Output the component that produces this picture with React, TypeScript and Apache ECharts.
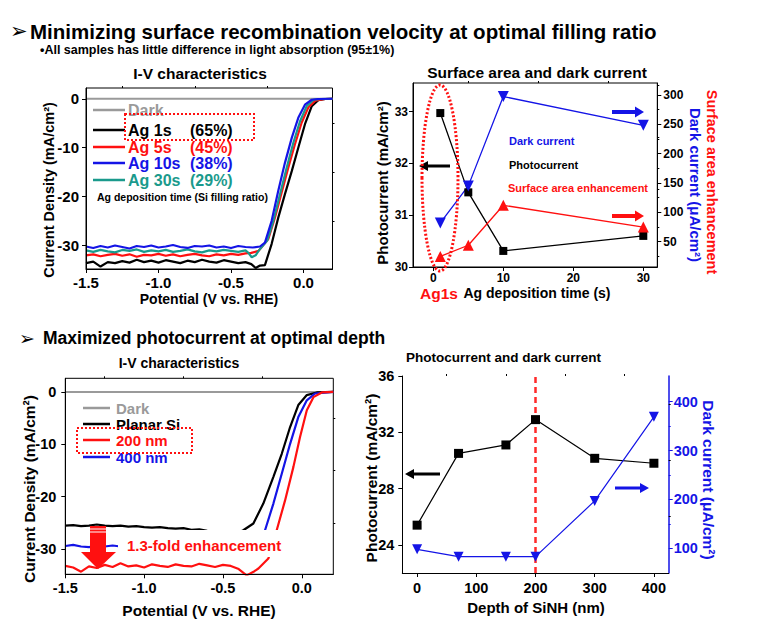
import React, { useEffect, useRef } from 'react';
import * as echarts from 'echarts';

const FONT = "'Liberation Sans', Arial, Helvetica, sans-serif";
const RED = '#ff1010';
const BLUE = '#1414e6';
const TEAL = '#1a9a8c';
const GRAY = '#9a9a9a';

// ---------- Panel 1 : I-V characteristics (Ag deposition time) ----------
const p1DarkV = [-1.5, 0.2];
const p1DarkJ = [0, 0];
const p1Ag1sV = [-1.5,-1.45,-1.4,-1.35,-1.3,-1.25,-1.2,-1.15,-1.1,-1.05,-1.0,-0.95,-0.9,-0.85,-0.8,-0.75,-0.7,-0.65,-0.6,-0.55,-0.5,-0.45,-0.4,-0.36,-0.33,-0.3,-0.266,-0.22,-0.174,-0.128,-0.081,-0.036,0.01,0.057,0.102,0.15,0.2];
const p1Ag1sJ = [-33.6,-33.3,-34.3,-33.4,-33.6,-33.2,-33.5,-32.9,-33.4,-33.1,-33.5,-33.0,-33.3,-33.6,-33.1,-33.4,-32.9,-33.3,-33.5,-33.0,-33.3,-33.6,-33.4,-33.8,-34.6,-34.1,-34.0,-29.7,-24.3,-19.5,-14.8,-10.0,-5.2,-1.5,-0.3,-0.05,0];
const p1Ag5sV = [-1.5,-1.45,-1.4,-1.35,-1.3,-1.25,-1.2,-1.15,-1.1,-1.05,-1.0,-0.95,-0.9,-0.85,-0.8,-0.75,-0.7,-0.65,-0.6,-0.55,-0.5,-0.45,-0.4,-0.36,-0.31,-0.243,-0.197,-0.151,-0.105,-0.059,-0.013,0.033,0.08,0.148,0.2];
const p1Ag5sJ = [-32.0,-31.8,-32.2,-31.9,-31.7,-32.1,-31.8,-32.3,-31.9,-32.0,-31.7,-32.1,-31.8,-32.2,-31.9,-31.7,-32.0,-32.2,-31.8,-32.0,-31.7,-31.9,-31.6,-31.5,-31.1,-28.7,-24.3,-19.2,-14.1,-9.3,-4.9,-1.8,-0.4,-0.05,0];
const p1Ag10sV = [-1.5,-1.45,-1.4,-1.35,-1.3,-1.25,-1.2,-1.15,-1.1,-1.05,-1.0,-0.95,-0.9,-0.85,-0.8,-0.75,-0.7,-0.65,-0.6,-0.55,-0.5,-0.45,-0.4,-0.35,-0.3,-0.266,-0.22,-0.174,-0.128,-0.081,-0.036,0.01,0.057,0.1,0.2];
const p1Ag10sJ = [-30.2,-30.5,-30.1,-30.4,-30.0,-30.3,-30.6,-30.1,-30.3,-30.0,-30.4,-30.2,-29.9,-30.3,-30.5,-30.1,-30.2,-30.0,-30.4,-30.2,-30.5,-30.1,-30.3,-30.4,-30.2,-29.4,-25.0,-18.8,-13.1,-8.0,-3.9,-1.2,-0.2,-0.05,0];
const p1Ag30sV = [-1.5,-1.45,-1.4,-1.35,-1.3,-1.25,-1.2,-1.15,-1.1,-1.05,-1.0,-0.95,-0.9,-0.85,-0.8,-0.75,-0.7,-0.65,-0.6,-0.55,-0.5,-0.45,-0.4,-0.38,-0.357,-0.33,-0.31,-0.25,-0.208,-0.162,-0.116,-0.07,-0.024,0.022,0.07,0.12,0.2];
const p1Ag30sJ = [-31.0,-31.3,-30.9,-31.2,-31.4,-30.9,-31.1,-30.8,-31.3,-31.0,-31.2,-30.9,-31.3,-31.1,-30.8,-31.2,-31.4,-31.0,-31.2,-30.9,-31.1,-31.3,-31.0,-31.5,-32.4,-32.0,-31.1,-29.0,-25.0,-19.5,-14.1,-9.0,-4.6,-1.5,-0.2,-0.05,0];
const ivXLabels = [-1.5, -1.0, -0.5, 0];
const ivXMinor = [-1.25, -0.75, -0.25];
const ivYLabels = [-30, -20, -10, 0];
const ivYMinor = [-25, -15, -5];

// ---------- Panel 2 : Surface area and dark current ----------
const depTime = [1, 5, 10, 30];
const photocurrent2 = [32.97, 31.44, 30.31, 30.6];
const darkCurrent2 = [82, 145, 297, 248];
const surfaceEnh2 = [25, 44, 112, 75];
const p2XLabels = [0, 10, 20, 30];
const p2XMinor = [5, 15, 25];
const p2LLabels = [30, 31, 32, 33];
const p2LMinor = [30.5, 31.5, 32.5, 33.5];
const p2RLabels = [50, 100, 150, 200, 250, 300];
const p2RMinor = [25, 75, 125, 175, 225, 275];

// ---------- Panel 3 : I-V characteristics (depth) ----------
const p3DarkV = [-1.5, 0.2];
const p3DarkJ = [0, 0];
const p3PlanarV = [-1.5,-1.45,-1.4,-1.35,-1.3,-1.25,-1.2,-1.15,-1.1,-1.05,-1.0,-0.95,-0.9,-0.85,-0.8,-0.75,-0.7,-0.65,-0.6,-0.55,-0.5,-0.45,-0.4,-0.371,-0.307,-0.244,-0.18,-0.127,-0.074,-0.022,0.032,0.095,0.2];
const p3PlanarJ = [-25.5,-25.4,-25.6,-25.5,-25.3,-25.5,-25.6,-25.5,-25.7,-25.6,-25.8,-25.9,-25.8,-26.0,-26.1,-26.0,-26.3,-26.2,-26.5,-26.7,-26.8,-26.9,-26.8,-26.4,-25.1,-21.3,-16.2,-11.8,-6.7,-2.5,-0.6,-0.1,0];
const p3n400V = [-1.5,-1.45,-1.4,-1.35,-1.3,-1.25,-1.2,-1.15,-0.8,-0.4,-0.25,-0.233,-0.18,-0.127,-0.074,-0.022,0.032,0.084,0.2];
const p3n400J = [-29.4,-29.2,-29.5,-29.6,-29.4,-29.5,-29.3,-29.5,-29.5,-29.5,-28.6,-26.4,-21.3,-15.6,-9.9,-4.8,-1.6,-0.3,0];
const p3n200V = [-1.5,-1.45,-1.4,-1.35,-1.3,-1.25,-1.2,-1.15,-1.1,-1.05,-1.0,-0.95,-0.9,-0.85,-0.8,-0.75,-0.7,-0.65,-0.6,-0.55,-0.5,-0.45,-0.4,-0.35,-0.3,-0.275,-0.212,-0.159,-0.106,-0.053,-0.011,0.032,0.074,0.127,0.2];
const p3n200J = [-33.2,-33.5,-34.3,-33.3,-33.6,-33.0,-33.4,-32.7,-33.3,-33.1,-33.5,-32.9,-33.2,-33.4,-32.9,-33.2,-33.3,-32.8,-33.1,-33.4,-33.0,-33.2,-33.8,-35.0,-34.2,-33.7,-31.8,-26.4,-20.7,-14.3,-8.6,-3.5,-1.0,-0.1,0];

// ---------- Panel 4 : Photocurrent and dark current ----------
const depth = [0, 70, 150, 200, 300, 400];
const photocurrent4 = [25.4, 30.5, 31.1, 32.9, 30.15, 29.8];
const darkCurrent4 = [98, 83, 83, 83, 197, 369];
const p4XLabels = [0, 100, 200, 300, 400];
const p4XMinor = [50, 150, 250, 350];
const p4LLabels = [24, 28, 32, 36];
const p4LMinor = [26, 30, 34];
const p4RLabels = [100, 200, 300, 400];
const p4RMinor = [150, 250, 350];
const optimalDepth = 200;

const zip = (xs: number[], ys: number[]) => xs.map((x, i) => [x, ys[i]]);

function mkAxis(p: any) {
  const color = p.color || '#000';
  const a: any = {
    type: 'value',
    gridIndex: p.grid,
    min: p.min,
    max: p.max,
    position: p.position,
    splitLine: { show: false },
    axisLine: { show: p.line !== false, onZero: false, lineStyle: { color, width: p.lineWidth || 1 } },
    axisTick: { show: true, inside: false, length: p.tickLen || 4, lineStyle: { color, width: 1 } },
    axisLabel: {
      show: p.showLabels !== false,
      color,
      fontWeight: 'bold',
      fontFamily: FONT,
      fontSize: p.fontSize || 14,
      margin: p.margin == null ? 6 : p.margin,
    },
    z: 5,
  };
  if (p.fmt) a.axisLabel.formatter = p.fmt;
  if (p.ticks) a.axisTick.customValues = p.ticks;
  if (p.labels) a.axisLabel.customValues = p.labels;
  return a;
}

// overlay axis that only draws short minor ticks
const minorAxis = (grid: number, min: number, max: number, ticks: number[], position?: string, color = '#000') =>
  mkAxis({ grid, min, max, ticks, position, color, showLabels: false, line: false, tickLen: 2 });

const txt = (x: number, y: number, text: string, o: any = {}) => ({
  type: 'text',
  x,
  y,
  z: 100,
  rotation: o.rot || 0,
  style: {
    text,
    fill: o.color || '#000',
    fontSize: o.size || 14,
    fontWeight: 'bold',
    fontFamily: o.family || FONT,
    align: o.align || 'left',
    verticalAlign: 'middle',
  },
});

const legLine = (x1: number, x2: number, y: number, color: string, w = 2.5) => ({
  type: 'line',
  z: 100,
  shape: { x1, y1: y, x2, y2: y },
  style: { stroke: color, lineWidth: w },
});

function hArrow(x1: number, y: number, x2: number, color: string, sw: number, hl: number, hw: number) {
  const s = Math.sign(x2 - x1);
  const b = x2 - s * hl;
  return {
    type: 'polygon',
    z: 100,
    shape: {
      points: [
        [x1, y - sw / 2], [b, y - sw / 2], [b, y - hw / 2], [x2, y],
        [b, y + hw / 2], [b, y + sw / 2], [x1, y + sw / 2],
      ],
    },
    style: { fill: color },
  };
}

function buildOption() {
  const lineSeries = (name: string, data: any, color: string, xi: number, yi: number, w = 2.2) => ({
    name, type: 'line', xAxisIndex: xi, yAxisIndex: yi, data, showSymbol: false, symbol: 'none',
    lineStyle: { color, width: w }, itemStyle: { color }, silent: true,
  });
  const markSeries = (name: string, data: any, color: string, xi: number, yi: number, symbol: string, size: number, rot = 0, w = 1.3) => ({
    name, type: 'line', xAxisIndex: xi, yAxisIndex: yi, data, symbol, symbolSize: size, symbolRotate: rot,
    lineStyle: { color, width: w }, itemStyle: { color }, silent: true,
  });

  const fmt1 = (v: number) => v.toFixed(1);

  return {
    animation: false,
    backgroundColor: '#fff',
    grid: [
      { left: 86, top: 88, width: 246.5, height: 181, show: true, borderColor: '#000', borderWidth: 1 },
      { left: 413, top: 83, width: 244.3, height: 184, show: true, borderColor: '#000', borderWidth: 1 },
      { left: 65.3, top: 378.3, width: 268, height: 196, show: true, borderColor: '#000', borderWidth: 1 },
      { left: 402.3, top: 376, width: 266.4, height: 197, show: false },
    ],
    xAxis: [
      mkAxis({ grid: 0, min: -1.5, max: 0.2, labels: ivXLabels, ticks: ivXLabels, fmt: fmt1, fontSize: 15, margin: 6 }),
      mkAxis({ grid: 1, min: -2.9, max: 32, labels: p2XLabels, ticks: p2XLabels, fontSize: 12, margin: 5 }),
      mkAxis({ grid: 2, min: -1.5, max: 0.2, labels: ivXLabels, ticks: ivXLabels, fmt: fmt1, fontSize: 14.5, margin: 6 }),
      mkAxis({ grid: 3, min: -25, max: 425, labels: p4XLabels, ticks: p4XLabels, fontSize: 14.5, margin: 7 }),
      minorAxis(0, -1.5, 0.2, ivXMinor),
      minorAxis(1, -2.9, 32, p2XMinor),
      minorAxis(2, -1.5, 0.2, ivXMinor),
      minorAxis(3, -25, 425, p4XMinor),
    ],
    yAxis: [
      mkAxis({ grid: 0, min: -34.8, max: 2.2, labels: ivYLabels, ticks: ivYLabels, fontSize: 15, margin: 7 }),
      mkAxis({ grid: 1, min: 30, max: 33.55, labels: p2LLabels, ticks: p2LLabels, fontSize: 12, margin: 5 }),
      mkAxis({ grid: 1, min: 7, max: 320, position: 'right', labels: p2RLabels, ticks: p2RLabels, fontSize: 12, margin: 6 }),
      mkAxis({ grid: 2, min: -34.8, max: 2.6, labels: ivYLabels, ticks: ivYLabels, fontSize: 14.5, margin: 9 }),
      mkAxis({ grid: 3, min: 22, max: 36, labels: p4LLabels, ticks: p4LLabels, fontSize: 14.5, margin: 8 }),
      mkAxis({ grid: 3, min: 49.5, max: 452.6, position: 'right', labels: p4RLabels, ticks: p4RLabels, fontSize: 14.5, margin: 5, color: BLUE, lineWidth: 1.5 }),
      minorAxis(0, -34.8, 2.2, ivYMinor),
      minorAxis(1, 30, 33.55, p2LMinor),
      minorAxis(1, 7, 320, p2RMinor, 'right'),
      minorAxis(2, -34.8, 2.6, ivYMinor),
      minorAxis(3, 22, 36, p4LMinor),
      minorAxis(3, 49.5, 452.6, p4RMinor, 'right', BLUE),
    ],
    series: [
      // panel 1
      lineSeries('Dark', zip(p1DarkV, p1DarkJ), GRAY, 0, 0, 2),
      lineSeries('Ag 1s', zip(p1Ag1sV, p1Ag1sJ), '#000', 0, 0),
      lineSeries('Ag 5s', zip(p1Ag5sV, p1Ag5sJ), RED, 0, 0),
      lineSeries('Ag 30s', zip(p1Ag30sV, p1Ag30sJ), TEAL, 0, 0),
      lineSeries('Ag 10s', zip(p1Ag10sV, p1Ag10sJ), BLUE, 0, 0),
      // panel 2
      markSeries('Photocurrent', zip(depTime, photocurrent2), '#000', 1, 1, 'rect', 8),
      markSeries('Dark current', zip(depTime, darkCurrent2), BLUE, 1, 2, 'triangle', 11, 180),
      markSeries('Surface area enhancement', zip(depTime, surfaceEnh2), RED, 1, 2, 'triangle', 11),
      // panel 3
      lineSeries('Dark', zip(p3DarkV, p3DarkJ), GRAY, 2, 3, 2),
      lineSeries('Planar Si', zip(p3PlanarV, p3PlanarJ), '#000', 2, 3),
      lineSeries('400 nm', zip(p3n400V, p3n400J), BLUE, 2, 3),
      lineSeries('200 nm', zip(p3n200V, p3n200J), RED, 2, 3),
      // panel 4
      {
        ...markSeries('Photocurrent', zip(depth, photocurrent4), '#000', 3, 4, 'rect', 9, 0, 1.2),
        markLine: {
          silent: true,
          symbol: ['none', 'none'],
          label: { show: false },
          lineStyle: { color: '#ff2a2a', type: [6, 4], width: 2.5 },
          data: [{ xAxis: optimalDepth }],
          z: 3,
        },
      },
      markSeries('Dark current', zip(depth, darkCurrent4), BLUE, 3, 5, 'triangle', 10, 180, 1.2),
    ],
    graphic: [
      // headings
      txt(10, 31, '\u27A2', { size: 21, family: "'DejaVu Sans', sans-serif" }),
      txt(30, 31, 'Minimizing surface recombination velocity at optimal filling ratio', { size: 20.5 }),
      txt(40, 50, '\u2022All samples has little difference in light absorption (95\u00B11%)', { size: 12.5 }),
      txt(19, 338, '\u27A2', { size: 19, family: "'DejaVu Sans', sans-serif" }),
      txt(43, 338, 'Maximized photocurrent at optimal depth', { size: 17.5 }),

      // panel 1
      txt(200, 73, 'I-V characteristics', { size: 15.5, align: 'center' }),
      txt(49, 190, 'Current Density (mA/cm\u00B2)', { size: 14.5, align: 'center', rot: Math.PI / 2 }),
      txt(209, 299, 'Potential (V vs. RHE)', { size: 14, align: 'center' }),
      legLine(93, 125, 110, GRAY),
      txt(128, 110, 'Dark', { size: 16, color: GRAY }),
      legLine(93, 125, 130, '#000'),
      txt(128, 130, 'Ag 1s', { size: 16 }),
      txt(190, 130, '(65%)', { size: 16 }),
      legLine(93, 125, 147, RED),
      txt(128, 147, 'Ag 5s', { size: 16, color: RED }),
      txt(190, 147, '(45%)', { size: 16, color: RED }),
      legLine(93, 125, 163, BLUE),
      txt(128, 163, 'Ag 10s', { size: 16, color: BLUE }),
      txt(190, 163, '(38%)', { size: 16, color: BLUE }),
      legLine(93, 125, 180, TEAL),
      txt(128, 180, 'Ag 30s', { size: 16, color: TEAL }),
      txt(190, 180, '(29%)', { size: 16, color: TEAL }),
      txt(97, 197, 'Ag deposition time (Si filling ratio)', { size: 10.5 }),
      {
        type: 'rect', z: 101,
        shape: { x: 125, y: 114, width: 129, height: 26 },
        style: { fill: 'none', stroke: RED, lineWidth: 2, lineDash: [2, 2] },
      },

      // panel 2
      txt(537, 72, 'Surface area and dark current', { size: 15.5, align: 'center' }),
      txt(382, 183, 'Photocurrent (mA/cm\u00B2)', { size: 15, align: 'center', rot: Math.PI / 2 }),
      txt(695, 185, 'Dark current (\u03BCA/cm\u00B2)', { size: 15, align: 'center', rot: -Math.PI / 2, color: BLUE }),
      txt(712, 182, 'Surface area enhancement', { size: 14.5, align: 'center', rot: -Math.PI / 2, color: RED }),
      txt(537, 293, 'Ag deposition time (s)', { size: 14, align: 'center' }),
      txt(439, 293, 'Ag1s', { size: 15.5, align: 'center', color: RED }),
      txt(509, 141, 'Dark current', { size: 11, color: BLUE }),
      txt(509, 165, 'Photocurrent', { size: 11 }),
      txt(508, 188, 'Surface area enhancement', { size: 11, color: RED }),
      hArrow(450, 166, 419, '#000', 3, 9, 10),
      hArrow(612, 112, 644, BLUE, 4, 9, 11),
      hArrow(612, 216, 644, RED, 4, 9, 11),
      {
        type: 'ellipse', z: 101,
        shape: { cx: 440, cy: 178, rx: 18, ry: 93 },
        style: { fill: 'none', stroke: RED, lineWidth: 3, lineDash: [2, 2] },
      },

      // panel 3
      txt(179, 363, 'I-V characteristics', { size: 14, align: 'center' }),
      txt(29, 489, 'Current Density (mA/cm\u00B2)', { size: 15.5, align: 'center', rot: Math.PI / 2 }),
      txt(199, 610, 'Potential (V vs. RHE)', { size: 15.5, align: 'center' }),
      legLine(83, 110, 408, GRAY),
      txt(116, 408, 'Dark', { size: 15, color: GRAY }),
      legLine(83, 110, 424, '#000'),
      txt(116, 424, 'Planar Si', { size: 15 }),
      legLine(83, 110, 440, RED),
      txt(116, 440, '200 nm', { size: 15, color: RED }),
      legLine(83, 110, 457, BLUE),
      txt(116, 457, '400 nm', { size: 15, color: BLUE }),
      {
        type: 'rect', z: 101,
        shape: { x: 77, y: 428, width: 115, height: 25 },
        style: { fill: 'none', stroke: RED, lineWidth: 2, lineDash: [2, 2] },
      },
      {
        type: 'rect', z: 99,
        shape: { x: 118, y: 530, width: 172, height: 27 },
        style: { fill: '#fff' },
      },
      txt(127, 545, '1.3-fold enhancement', { size: 15, color: RED }),
      {
        type: 'polygon', z: 102,
        shape: { points: [[90, 526], [106, 526], [106, 552], [116, 552], [98, 569], [81, 552], [90, 552]] },
        style: { fill: RED },
      },
      { type: 'line', z: 103, shape: { x1: 90, y1: 529, x2: 106, y2: 529 }, style: { stroke: '#fff', lineWidth: 1 } },
      { type: 'line', z: 103, shape: { x1: 90, y1: 532, x2: 106, y2: 532 }, style: { stroke: '#fff', lineWidth: 1 } },

      // panel 4
      txt(406, 357, 'Photocurrent and dark current', { size: 13.5 }),
      txt(371, 478, 'Photocurrent (mA/cm\u00B2)', { size: 15.5, align: 'center', rot: Math.PI / 2 }),
      txt(708, 480, 'Dark current (\u03BCA/cm\u00B2)', { size: 15.5, align: 'center', rot: -Math.PI / 2, color: BLUE }),
      txt(536, 607, 'Depth of SiNH (nm)', { size: 15, align: 'center' }),
      hArrow(440, 474, 405, '#000', 3, 9, 10),
      hArrow(615, 488, 649, BLUE, 3, 9, 10),
    ],
  };
}

export default function App() {
  const ref = useRef<HTMLDivElement>(null);
  useEffect(() => {
    if (!ref.current) return;
    const chart = echarts.init(ref.current, null, { renderer: 'svg' });
    chart.setOption(buildOption() as any);
    return () => chart.dispose();
  }, []);
  return (
    <div
      ref={ref}
      style={{ position: 'absolute', left: 0, top: 0, width: 757, height: 634, background: '#fff' }}
    />
  );
}
